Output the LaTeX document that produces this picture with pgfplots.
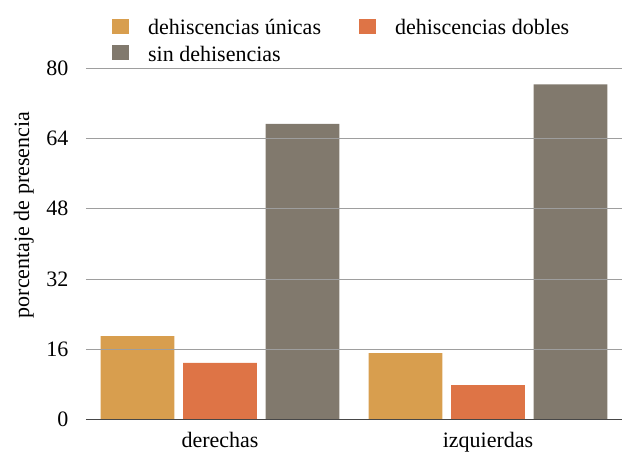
\documentclass[border=0pt]{standalone}
\usepackage{fontspec}
\setmainfont{Liberation Serif}
\usepackage{pgfplots}
\pgfplotsset{compat=1.18}
\definecolor{cUni}{RGB}{216,158,78}
\definecolor{cDob}{RGB}{222,116,70}
\definecolor{cSin}{RGB}{129,121,109}
\begin{document}
\fontsize{22}{25}\selectfont
\begin{tikzpicture}
\useasboundingbox (0,0) rectangle (622pt,452pt);
\begin{axis}[
  at={(86pt,32.5pt)}, anchor=south west,
  scale only axis, width=536pt, height=351.5pt,
  xmin=-0.5, xmax=1.5, ymin=0, ymax=80,
  ytick={0,16,32,48,64,80},
  xtick={0,1}, xticklabels={derechas,izquierdas},
  axis lines*=left,
  y axis line style={draw=none},
  x axis line style={draw=black!72, line width=1.6pt},
  major tick length=0pt,
  ymajorgrids, major grid style={draw=black!38, line width=0.8pt},
  axis on top,
  /pgf/number format/assume math mode=true,
  yticklabel style={xshift=-10pt},
  xticklabel style={yshift=-5.5pt},
  ylabel={porcentaje de presencia},
  ylabel style={at={(axis description cs:-0.106,0.582)}, anchor=base},
  legend columns=2,
  legend cell align=left,
  legend style={draw=none, fill=none, at={(0.0485,1.145)}, anchor=north west,
    inner sep=0pt, row sep=4pt,
    /tikz/every odd column/.append style={column sep=17pt},
    /tikz/every even column/.append style={column sep=36pt}},
]
\addplot[ybar, bar width=0.275, bar shift=-0.308, fill=cUni, draw=none,
  legend image code/.code={\fill[cUni] (0pt,-5pt) rectangle (17pt,10pt);}]
  coordinates {(0,19.0) (1,15.1)};
\addlegendentry{dehiscencias únicas}
\addplot[ybar, bar width=0.275, bar shift=0, fill=cDob, draw=none,
  legend image code/.code={\fill[cDob] (0pt,-5pt) rectangle (17pt,10pt);}]
  coordinates {(0,12.9) (1,7.85)};
\addlegendentry{dehiscencias dobles}
\addplot[ybar, bar width=0.275, bar shift=0.308, fill=cSin, draw=none,
  legend image code/.code={\fill[cSin] (0pt,-5pt) rectangle (17pt,10pt);}]
  coordinates {(0,67.3) (1,76.3)};
\addlegendentry{sin dehisencias}
\end{axis}
\end{tikzpicture}
\end{document}
